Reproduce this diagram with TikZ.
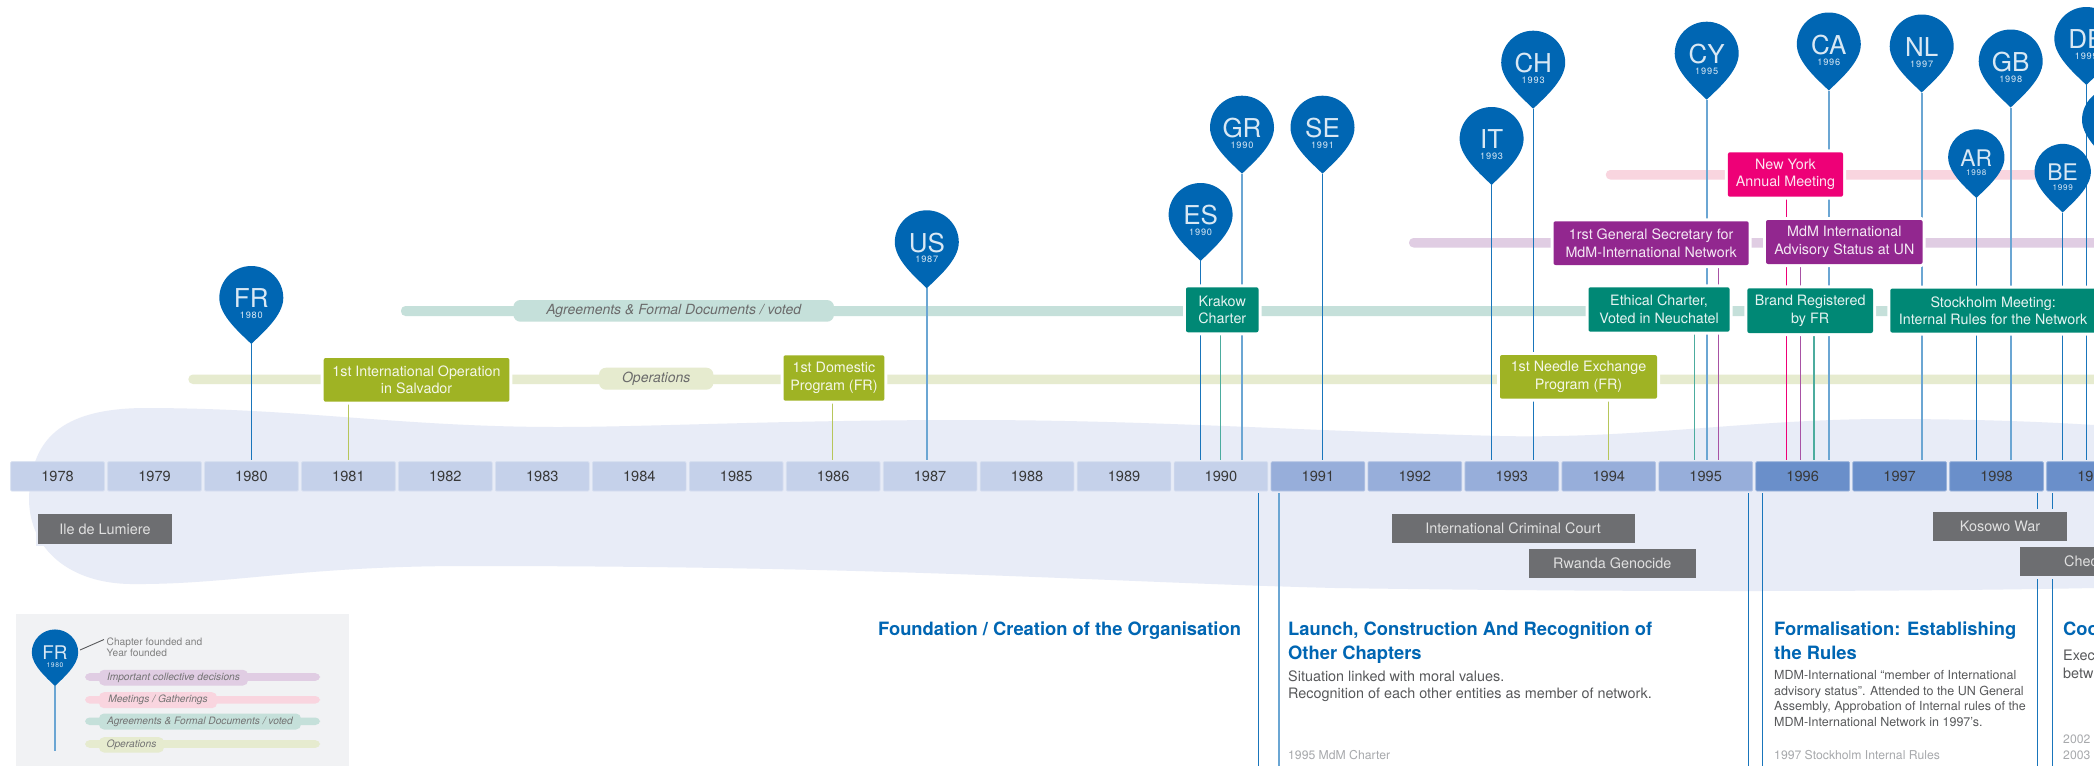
\documentclass[tikz,border=0pt]{standalone}
\usepackage{fontspec}
\setmainfont{TeX Gyre Heros}
\newfontfamily\pinyearfont[LetterSpace=9]{TeX Gyre Heros}
\usetikzlibrary{calc}
\definecolor{pinblue}{HTML}{0066B3}
\definecolor{blobc}{HTML}{E8ECF7}
\definecolor{yearA}{HTML}{C5D1EA}
\definecolor{yearB}{HTML}{97AEDA}
\definecolor{yearC}{HTML}{6A8FCA}
\definecolor{olivebox}{HTML}{9FB324}
\definecolor{greenbox}{HTML}{008875}
\definecolor{purplebox}{HTML}{92278F}
\definecolor{pinkbox}{HTML}{EE0077}
\definecolor{graybox}{HTML}{6D6E71}
\definecolor{barops}{HTML}{E6EBCF}
\definecolor{bargreen}{HTML}{C5E0DA}
\definecolor{barpurple}{HTML}{E0CDE3}
\definecolor{barpink}{HTML}{F9D5DF}
\definecolor{panelc}{HTML}{F1F2F4}
\definecolor{bodyc}{HTML}{58595B}
\definecolor{notec}{HTML}{A7A9AC}
\pgfdeclarelayer{blobl}
\pgfdeclarelayer{barl}
\pgfdeclarelayer{linel}
\pgfsetlayers{blobl,barl,linel,main}
\tikzset{
  x=1pt,y=-1pt,
  yearcell/.style={draw=#1!70!white,line width=0.7pt,fill=#1,rounded corners=1pt,inner sep=0,minimum width=93.7pt,minimum height=29.3pt,text=black!78,font=\fontsize{14.6}{16}\selectfont},
  evbox/.style={fill=#1,rounded corners=2pt,preaction={draw=white,line width=6pt},inner sep=0,align=center,text=white!90!#1,font=\fontsize{14.3}{17.6}\selectfont,execute at begin node={\rule{0pt}{13pt}}},
  wbox/.style={fill=graybox,preaction={draw=blobc,line width=5pt},inner sep=0,text=white!88!black,font=\fontsize{14.4}{17}\selectfont},
  bandc/.style={fill=#1,rounded corners=4.5pt},
  capsule/.style={fill=#1,rounded corners=7pt,inner sep=0,text=black!58,font=\fontsize{14}{17}\itshape\selectfont},
  lthin/.style={draw=pinblue!90!white,line width=1pt},
  lthick/.style={draw=pinblue!58!white,line width=1.7pt},
  lgreen/.style={draw=greenbox!70!white,line width=1.1pt},
  lolive/.style={draw=olivebox!75!white,line width=1.1pt},
  lpink/.style={draw=pinkbox,line width=1pt},
  lpurple/.style={draw=purplebox!80!white,line width=1.1pt},
  phead/.style={anchor=base west,inner sep=0,text=pinblue,font=\fontsize{18.35}{22}\bfseries\selectfont},
  pbody/.style={anchor=base west,inner sep=0,text=bodyc,font=\fontsize{14.4}{17}\selectfont},
  psmall/.style={anchor=base west,inner sep=0,text=bodyc,font=\fontsize{12.5}{15}\selectfont},
  pnote/.style={anchor=base west,inner sep=0,text=notec,font=\fontsize{12.2}{15}\selectfont},
  legtext/.style={anchor=base west,inner sep=0,text=black!50,font=\fontsize{10.2}{12}\selectfont},
  legcap/.style={fill=#1,rounded corners=5pt,inner sep=0,text=black!55,font=\fontsize{10.2}{12}\itshape\selectfont},
}
\newcommand{\tlbox}[7]{%
  \pgfmathsetmacro\tlw{#4-#2}\pgfmathsetmacro\tlh{#5-#3}%
  \node[#6,minimum width=\tlw pt,minimum height=\tlh pt] (#1) at ({(#2+#4)/2},{(#3+#5)/2}) {#7};}
\newcommand{\mappin}[6]{%
  \coordinate (#1) at (#2,#3);
  \fill[pinblue,shift={(#2,#3)},scale=#4] (0,0) .. controls (-10,-10) and (-32,-28) .. (-32,-46)
    .. controls (-32,-63.7) and (-17.7,-78) .. (0,-78)
    .. controls (17.7,-78) and (32,-63.7) .. (32,-46)
    .. controls (32,-28) and (10,-10) .. cycle;
  \pgfmathsetmacro\pfa{26*#4}\pgfmathsetmacro\pfb{9.2*#4}%
  \node[inner sep=0,text=white!85!pinblue,font=\fontsize{\pfa}{\pfa}\selectfont] (#1code) at ($(#1)+(0,{-45.5*#4})$) {#5};
  \node[inner sep=0,text=white!85!pinblue,font=\fontsize{\pfb}{\pfb}\pinyearfont] (#1year) at ($(#1)+(0,{-28.5*#4})$) {#6};}
\begin{document}
\begin{tikzpicture}
\useasboundingbox (0,0) rectangle (2094,766);
\begin{pgfonlayer}{blobl}
\fill[white] (0,0) rectangle (2094,766);
\fill[blobc] (29,500) .. controls (30,440) and (60,409) .. (143,408)
  .. controls (300,408) and (400,427) .. (558,427)
  .. controls (650,427) and (780,420) .. (968,420)
  .. controls (1150,420) and (1300,431) .. (1500,436)
  .. controls (1640,439) and (1750,419) .. (1887,419)
  .. controls (1960,419) and (2030,421) .. (2094,425)
  -- (2094,588)
  .. controls (1900,592) and (1600,592) .. (1335,588)
  .. controls (1100,582) and (900,566) .. (467,566)
  .. controls (300,566) and (230,585) .. (130,584)
  .. controls (70,583) and (30,550) .. (29,500) -- cycle;
\fill[panelc] (16,614) rectangle (349,766);
\end{pgfonlayer}
% axis
\coordinate (axisTop) at (0,460);
\coordinate (axisBot) at (0,493);
\coordinate (pageBot) at (0,766);
\foreach \yr [count=\i from 0] in {1978,...,1990} {
  \node[yearcell=yearA] (y\yr) at ({57.55+96.95*\i},476.35) {\yr};}
\foreach \yr [count=\i from 13] in {1991,...,1995} {
  \node[yearcell=yearB] (y\yr) at ({57.55+96.95*\i},476.35) {\yr};}
\foreach \yr [count=\i from 18] in {1996,...,1999} {
  \node[yearcell=yearC] (y\yr) at ({57.55+96.95*\i},476.35) {\yr};}
% event boxes
\tlbox{intlop}{323.7}{358}{509.4}{401.7}{evbox=olivebox}{1st International Operation\\in Salvador}
\tlbox{domestic}{783.5}{355.3}{884.4}{400.7}{evbox=olivebox}{1st Domestic\\Program (FR)}
\tlbox{krakow}{1186}{287.3}{1258.5}{332.3}{evbox=greenbox}{Krakow\\Charter}
\tlbox{needle}{1500}{355}{1657}{398.7}{evbox=olivebox}{1st Needle Exchange\\Program (FR)}
\tlbox{ethical}{1588.5}{287.3}{1729.6}{331.7}{evbox=greenbox}{Ethical Charter,\\Voted in Neuchatel}
\tlbox{brand}{1747.3}{288.3}{1873}{333}{evbox=greenbox}{Brand Registered\\by FR}
\tlbox{stockholm}{1890.3}{288.6}{2096}{332.6}{evbox=greenbox}{Stockholm Meeting:\\Internal Rules for the Network}
\tlbox{secretary}{1553.5}{221.3}{1748.7}{265}{evbox=purplebox}{1rst General Secretary for\\MdM-International Network}
\tlbox{advisory}{1766}{220}{1922.6}{264}{evbox=purplebox}{MdM International\\Advisory Status at UN}
\tlbox{newyork}{1727.9}{152.3}{1843}{196.7}{evbox=pinkbox}{New York\\Annual Meeting}
% world events
\tlbox{lumiere}{38}{514.3}{172}{543.7}{wbox}{Ile de Lumiere}
\tlbox{icc}{1391.6}{514}{1634.5}{542.7}{wbox}{International Criminal Court}
\tlbox{rwanda}{1529}{548.7}{1695.6}{577.7}{wbox}{Rwanda Genocide}
\tlbox{kosowo}{1932.7}{511.7}{2067.3}{541}{wbox}{Kosowo War}
\tlbox{chec}{2020.3}{546.7}{2104}{576}{wbox}{}
\node[anchor=west,inner sep=0,text=white!88!black,font=\fontsize{14.4}{17}\selectfont] (chectext) at (2064,561.3) {Chec};
% band labels
\begin{pgfonlayer}{barl}
\fill[bandc=barops] (188.4,374.5) rectangle (2100,384);
\fill[bandc=bargreen] (401,306) rectangle (2000,316);
\fill[bandc=barpurple] (1409,238) rectangle (2100,247.5);
\fill[bandc=barpink] (1605.8,170) rectangle (2062,179.5);
\end{pgfonlayer}
\tlbox{capops}{599}{367.7}{713.4}{389.7}{capsule=barops}{Operations\hspace{2pt}}
\tlbox{capagr}{513.4}{300}{834}{321.7}{capsule=bargreen}{Agreements \& Formal Documents / voted\hspace{7pt}}
% pins
\mappin{pFR}{251.3}{344}{1}{FR}{1980}
\mappin{pUS}{926.8}{288.3}{1}{US}{1987}
\mappin{pES}{1200.6}{261}{1}{ES}{1990}
\mappin{pGR}{1242}{173.7}{1}{GR}{1990}
\mappin{pSE}{1322.5}{173.7}{1}{SE}{1991}
\mappin{pIT}{1491.6}{185}{1}{IT}{1993}
\mappin{pCH}{1533.2}{108.7}{1}{CH}{1993}
\mappin{pCY}{1706.7}{99.7}{1}{CY}{1995}
\mappin{pCA}{1828.8}{90.5}{1}{CA}{1996}
\mappin{pNL}{1921.7}{92.5}{1}{NL}{1997}
\mappin{pAR}{1976.3}{198}{0.88}{AR}{1998}
\mappin{pGB}{2010.7}{107.5}{1}{GB}{1998}
\mappin{pBE}{2062.7}{212.5}{0.88}{BE}{1999}
\mappin{pDE}{2086.3}{85}{1}{DE}{1999}
\fill[pinblue,shift={(2114,166)}] (0,0) .. controls (-10,-10) and (-32,-28) .. (-32,-46)
    .. controls (-32,-63.7) and (-17.7,-78) .. (0,-78) -- (40,-78) -- (40,0) -- cycle;
% connectors
\coordinate (c81) at (348.7,460);
\coordinate (c86) at (832.6,460);
\coordinate (c90g) at (1220.5,460);
\coordinate (c94) at (1608.8,460);
\coordinate (c95g) at (1694.7,460);
\coordinate (c95p) at (1718.6,460);
\coordinate (c96k) at (1786.3,460);
\coordinate (c96p) at (1800.4,460);
\coordinate (c96g) at (1814,460);
\begin{pgfonlayer}{linel}
\foreach \p in {pFR,pES,pSE,pIT,pCH,pAR,pBE,pDE} \draw[lthin] (\p) -- (\p |- axisTop);
\foreach \p in {pUS,pGR,pCY,pCA,pNL,pGB} \draw[lthick] (\p) -- (\p |- axisTop);
\draw[lolive] (intlop.south -| c81) -- (c81);
\draw[lolive] (domestic.south -| c86) -- (c86);
\draw[lolive] (needle.south -| c94) -- (c94);
\draw[lgreen] (krakow.south -| c90g) -- (c90g);
\draw[lgreen] (ethical.south -| c95g) -- (c95g);
\draw[lgreen] (brand.south -| c96g) -- (c96g);
\draw[lpurple] (secretary.south -| c95p) -- (c95p);
\draw[lpurple] (advisory.south -| c96p) -- (c96p);
\draw[lpink] (newyork.south -| c96k) -- (c96k);
% period rules
\coordinate (r1) at (1258,493);
\coordinate (r2) at (1279,493);
\coordinate (r3) at (1748.4,493);
\coordinate (r4) at (1762.4,493);
\coordinate (r5) at (2037.3,493);
\coordinate (r6) at (2052.3,493);
\foreach \r in {r1,r3,r4,r5,r6} \draw[lthin] (\r) -- (\r |- pageBot);
\draw[lthick] (r2) -- (r2 |- pageBot);
\end{pgfonlayer}
% text columns
\node[phead] (found) at (877.9,635.5) {Foundation / Creation of the Organisation};
\node[phead] (launchA) at (1288,635.5) {Launch, Construction And Recognition of};
\node[phead] (launchB) at (1288,659) {Other Chapters};
\node[pbody] (launchC) at (1288,681) {Situation linked with moral values.};
\node[pbody] (launchD) at (1288,698.5) {Recognition of each other entities as member of network.};
\node[pnote] (launchE) at (1288,759) {1995 MdM Charter};
\node[phead] (formA) at (1774,635.5) {Formalisation: Establishing};
\node[phead] (formB) at (1774,659) {the Rules};
\node[psmall] (formC) at (1774,679.5) {MDM-International “member of International};
\node[psmall] (formD) at (1774,695) {advisory status”. Attended to the UN General};
\node[psmall] (formE) at (1774,710.5) {Assembly, Approbation of Internal rules of the};
\node[psmall] (formF) at (1774,726) {MDM-International Network in 1997’s.};
\node[pnote] (formG) at (1774,759) {1997 Stockholm Internal Rules};
\node[phead] (cooA) at (2063,635.5) {Coo};
\node[pbody] (cooB) at (2063,660) {Exec};
\node[pbody] (cooC) at (2063,678) {betw};
\node[pnote] (cooD) at (2063,743) {2002};
\node[pnote] (cooE) at (2063,759) {2003};
% legend
\fill[bandc=barpurple] (85,673.2) rectangle (320,680.8);
\fill[bandc=barpink] (85,696) rectangle (320,703.5);
\fill[bandc=bargreen] (85,717.5) rectangle (320,725);
\fill[bandc=barops] (85,740.2) rectangle (320,747.8);
\tlbox{legA}{99}{669.8}{248}{685.5}{legcap=barpurple}{Important collective decisions}
\tlbox{legB}{99}{692.2}{217}{708.2}{legcap=barpink}{Meetings / Gatherings}
\tlbox{legC}{99}{713.5}{301}{729.5}{legcap=bargreen}{Agreements \& Formal Documents / voted}
\tlbox{legD}{99}{737.2}{164}{752.5}{legcap=barops}{Operations}
\mappin{legpin}{55}{686}{0.725}{FR}{1980}
\coordinate (legend) at (55,750.7);
\draw[lthick] (legpin) -- (legend);
\node[legtext] (legTa) at (106.5,645) {Chapter founded and};
\node[legtext] (legTb) at (106.5,656.5) {Year founded};
\coordinate (calloutA) at (80,650);
\coordinate (calloutB) at (104,639.5);
\draw[bodyc,line width=0.9pt] (calloutA) -- (calloutB);
\end{tikzpicture}
\end{document}
